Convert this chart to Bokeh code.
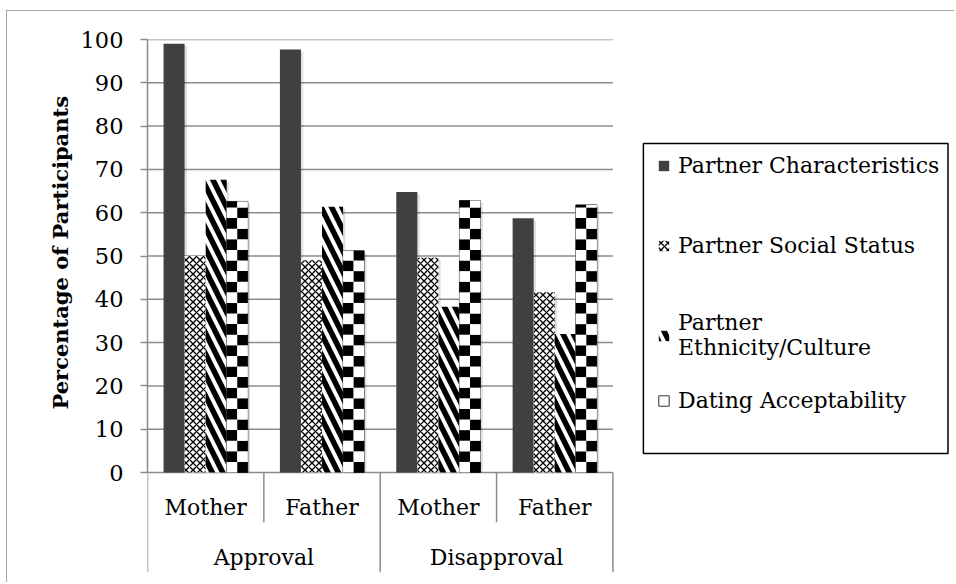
import math
from bokeh.plotting import figure
from bokeh.models import Range1d, FixedTicker, Legend, LegendItem, ColumnDataSource, Title
from bokeh.core.properties import value
from bokeh.embed import file_html
from bokeh.resources import INLINE

# ---------------- data ----------------
groups = ["Approval", "Disapproval"]
parents = ["Mother", "Father"]
series_labels = ["Partner Characteristics", "Partner Social Status",
                 "Partner\nEthnicity/Culture", "Dating Acceptability"]
partner_characteristics = [99.0, 97.7, 64.8, 58.7]
partner_social_status = [50.0, 49.0, 49.6, 41.6]
partner_ethnicity_culture = [67.6, 61.4, 38.3, 32.0]
dating_acceptability = [62.6, 51.2, 62.8, 61.8]
y_ticks = [0, 10, 20, 30, 40, 50, 60, 70, 80, 90, 100]
y_title = "Percentage of Participants"

series_values = [partner_characteristics, partner_social_status,
                 partner_ethnicity_culture, dating_acceptability]

# ---------------- layout constants (page pixels) ----------------
FRAME_LEFT = 147        # x of the value axis
FRAME_TOP = 39          # y of the 100 line
FRAME_W = 809
FRAME_H = 533
PX_CAT = 116.5          # width of one category slot
PX_UNIT = 4.33          # pixels per percentage point
FONT = "DejaVu Serif"
GRAY = "#8c8c8c"

n_cat = len(groups) * len(parents)
x_end = FRAME_W / PX_CAT
y_top = max(y_ticks)
y_start = y_top - FRAME_H / PX_UNIT
frame_bottom = FRAME_TOP + FRAME_H


def yv(page_y):
    return y_top - (page_y - FRAME_TOP) / PX_UNIT


def xv(page_x):
    return (page_x - FRAME_LEFT) / PX_CAT


p = figure(width=948, height=572, output_backend="svg", toolbar_location=None,
           x_range=Range1d(0, x_end), y_range=Range1d(y_start, y_top),
           x_axis_location=None, min_border_left=140, min_border_right=0,
           min_border_top=28, min_border_bottom=11,
           outline_line_color=None, background_fill_color="white",
           border_fill_color="white",
           styles={"margin-left": "6px", "margin-top": "10px",
                   "border-left": "1px solid #a6a6a6",
                   "border-top": "1px solid #a6a6a6"})
p.xgrid.visible = False
p.ygrid.visible = False

# y axis
ax = p.yaxis[0]
ax.ticker = FixedTicker(ticks=y_ticks)
ax.bounds = (min(y_ticks), max(y_ticks))
ax.axis_line_color = GRAY
ax.axis_line_width = 1.5
ax.major_tick_line_color = GRAY
ax.major_tick_line_width = 1.5
ax.major_tick_out = 7
ax.major_tick_in = 0
ax.minor_tick_line_color = None
ax.major_label_text_font = FONT
ax.major_label_text_font_size = "22.5px"
ax.major_label_text_color = "black"
ax.major_label_standoff = 17

# value-axis title, centred on the 0-100 part of the axis
p.add_layout(Title(text=y_title, align="left", offset=frame_bottom - 409,
                   text_font=FONT, text_font_style="bold", text_font_size="21px",
                   text_color="black", standoff=10), "left")

# horizontal gridlines across the category area
p.segment(x0=[0] * len(y_ticks), x1=[n_cat] * len(y_ticks), y0=y_ticks, y1=y_ticks,
          line_color=GRAY, line_width=1.5)

# bars
bar_w = 0.181
offsets = [-1.5 * bar_w, -0.5 * bar_w, 0.5 * bar_w, 1.5 * bar_w]
centers = [i + 0.5 for i in range(n_cat)]

styles = [
    dict(fill_color="#404040", line_color=None),
    dict(fill_color="white", hatch_pattern="x", hatch_color="black",
         hatch_scale=7, hatch_weight=1.3, line_color=None),
    dict(fill_color="white", hatch_pattern="\\", hatch_color="black",
         hatch_scale=21, hatch_weight=5.5, line_color=None),
    dict(fill_color="white", line_color="#303030", line_width=1),
]

# soft shadows
for k, vals in enumerate(series_values):
    xs = [c + offsets[k] + 0.02 for c in centers]
    p.vbar(x=xs, top=[v - 0.5 for v in vals], bottom=0, width=bar_w,
           fill_color="black", fill_alpha=0.12, line_color=None)

renderers = []
for k, vals in enumerate(series_values):
    xs = [c + offsets[k] for c in centers]
    r = p.vbar(x=xs, top=vals, bottom=0, width=bar_w, **styles[k])
    renderers.append(r)

# checkerboard texture for the last series, built inside each of its bars
cell_h = 10.6 / PX_UNIT
cl, cr, cb, ct, cc = [], [], [], [], []
for i, v in enumerate(dating_acceptability):
    xc = centers[i] + offsets[3]
    nrows = math.ceil(v / cell_h)
    for row in range(nrows):
        b = row * cell_h
        t = min((row + 1) * cell_h, v)
        for col in range(2):
            cl.append(xc - bar_w / 2 + col * bar_w / 2)
            cr.append(xc - bar_w / 2 + (col + 1) * bar_w / 2)
            cb.append(b)
            ct.append(t)
            cc.append("black" if (row + col) % 2 == 1 else "white")
p.quad(source=ColumnDataSource(dict(left=cl, right=cr, bottom=cb, top=ct, color=cc)),
       left="left", right="right", bottom="bottom", top="top",
       fill_color="color", line_color=None)

# category axis (two levels) with separators
inner = [g * len(parents) + j for g in range(len(groups)) for j in range(1, len(parents))]
outer = [g * len(parents) for g in range(len(groups) + 1)]
p.segment(x0=inner, x1=inner, y0=[0] * len(inner), y1=[yv(521.7)] * len(inner),
          line_color=GRAY, line_width=1.5)
p.segment(x0=outer, x1=outer, y0=[0] * len(outer), y1=[y_start] * len(outer),
          line_color=GRAY, line_width=1.5)

parent_labels = [parents[i % len(parents)] for i in range(n_cat)]
p.text(x=centers, y=[yv(506.5)] * n_cat, text=parent_labels,
       text_font=value(FONT), text_font_size="22px", text_color="black",
       text_align="center", text_baseline="middle")
group_centers = [g * len(parents) + len(parents) / 2 for g in range(len(groups))]
p.text(x=group_centers, y=[yv(556.5)] * len(groups), text=groups,
       text_font=value(FONT), text_font_size="22px", text_color="black",
       text_align="center", text_baseline="middle")

# legend box
p.quad(left=[xv(643.5)], right=[xv(948.5)], top=[yv(143)], bottom=[yv(453)],
       fill_color=None, line_color="black", line_width=1.5)

# one legend per entry so that each entry sits where it does in the original
item_centers = [165, 245, 334.5, 400]
item_heights = [25.6, 25.6, 51, 25.6]
for k in range(len(series_labels)):
    lg = Legend(items=[LegendItem(label=series_labels[k], renderers=[renderers[k]])],
                location=(657 - FRAME_LEFT, frame_bottom - item_centers[k] - item_heights[k] / 2),
                border_line_color=None, background_fill_alpha=0, padding=0, margin=0,
                glyph_width=13, glyph_height=13, label_standoff=8,
                label_text_font=FONT, label_text_font_size="22px",
                label_text_color="black")
    p.add_layout(lg)

open("out.html", "w").write(file_html(p, INLINE))
